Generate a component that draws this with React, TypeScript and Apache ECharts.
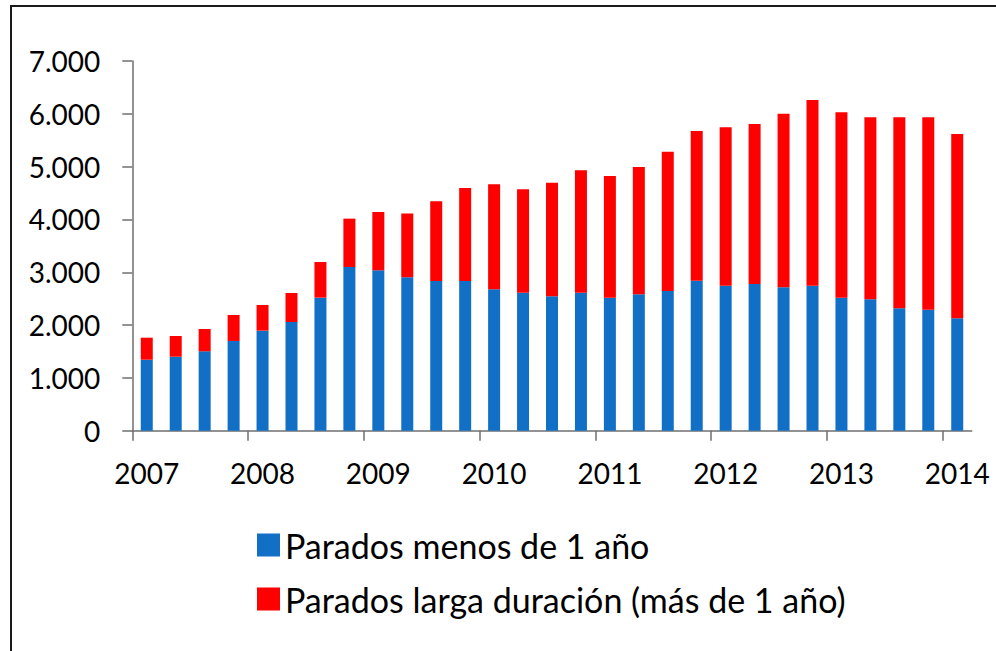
import React, { useEffect, useRef } from "react";
import * as echarts from "echarts";

// Quarterly data, 2007 Q1 .. 2014 Q1 (thousands)
const quarters: string[] = [
  "2007T1", "2007T2", "2007T3", "2007T4",
  "2008T1", "2008T2", "2008T3", "2008T4",
  "2009T1", "2009T2", "2009T3", "2009T4",
  "2010T1", "2010T2", "2010T3", "2010T4",
  "2011T1", "2011T2", "2011T3", "2011T4",
  "2012T1", "2012T2", "2012T3", "2012T4",
  "2013T1", "2013T2", "2013T3", "2013T4",
  "2014T1",
];

const totalParados: number[] = [
  1761, 1793, 1926, 2191, 2380, 2607, 3194, 4015, 4141, 4113,
  4343, 4596, 4665, 4571, 4696, 4930, 4823, 4993, 5283, 5675,
  5745, 5808, 6003, 6262, 6029, 5934, 5934, 5934, 5618,
];

const paradosMenos1: number[] = [
  1344, 1401, 1503, 1699, 1894, 2058, 2519, 3100, 3037, 2904,
  2834, 2834, 2677, 2614, 2544, 2614, 2519, 2582, 2645, 2838,
  2746, 2778, 2715, 2746, 2519, 2488, 2317, 2292, 2128,
];

const paradosLarga: number[] = totalParados.map((t, i) => t - paradosMenos1[i]);

// Year boundaries for tick marks (30 boundaries for 29 bars; ticks every 4th)
const yearBoundaries: string[] = Array.from({ length: 30 }, (_, i) =>
  i % 4 === 0 ? String(2007 + i / 4) : ""
);

const seriesNames = ["Parados menos de 1 año", "Parados larga duración (más de 1 año)"];

const FONT = "Lato, 'Open Sans', sans-serif";
const AXIS_COLOR = "#6f6f6f";

export default function App() {
  const ref = useRef<HTMLDivElement>(null);

  useEffect(() => {
    if (!ref.current) return;
    const chart = echarts.init(ref.current, undefined, { renderer: "svg" });
    chart.setOption({
      animation: false,
      backgroundColor: "#ffffff",
      textStyle: { fontFamily: FONT },
      grid: { left: 132.3, right: 24.3, top: 61, bottom: 220.3, containLabel: false },
      legend: {
        orient: "vertical",
        left: 252,
        top: 520,
        itemWidth: 23,
        itemHeight: 23,
        itemGap: 14,
        icon: "rect",
        textStyle: { fontSize: 34, color: "#000", fontFamily: FONT, lineHeight: 40 },
        data: seriesNames,
      },
      xAxis: [
        {
          type: "category",
          data: quarters,
          position: "bottom",
          axisLine: { show: true, lineStyle: { color: AXIS_COLOR, width: 1.5 } },
          axisTick: { show: false },
          axisLabel: {
            show: true,
            interval: 3,
            margin: 28,
            fontSize: 28,
            color: "#000",
            fontFamily: FONT,
            formatter: (v: string) => v.slice(0, 4),
          },
        },
        {
          type: "category",
          data: yearBoundaries,
          boundaryGap: false,
          position: "bottom",
          axisLine: { show: false },
          axisTick: {
            show: true,
            interval: 3,
            length: 10,
            lineStyle: { color: AXIS_COLOR, width: 1.5 },
          },
          axisLabel: { show: false },
        },
      ],
      yAxis: {
        type: "value",
        min: 0,
        max: 7000,
        interval: 1000,
        axisLine: { show: true, lineStyle: { color: AXIS_COLOR, width: 1.5 } },
        axisTick: { show: true, length: 10, lineStyle: { color: AXIS_COLOR, width: 1.5 } },
        splitLine: { show: false },
        axisLabel: {
          margin: 32,
          fontSize: 28,
          color: "#000",
          fontFamily: FONT,
          formatter: (v: number) => String(v).replace(/\B(?=(\d{3})+(?!\d))/g, "."),
        },
      },
      series: [
        {
          name: seriesNames[0],
          type: "bar",
          stack: "total",
          xAxisIndex: 0,
          barWidth: 12,
          data: paradosMenos1,
          itemStyle: { color: "#1170C6" },
        },
        {
          name: seriesNames[1],
          type: "bar",
          stack: "total",
          xAxisIndex: 0,
          barWidth: 12,
          data: paradosLarga,
          itemStyle: { color: "#FF0000" },
        },
      ],
      graphic: [
        {
          type: "line",
          shape: { x1: 10, y1: 6, x2: 996, y2: 6 },
          style: { stroke: "#1a1a1a", lineWidth: 2 },
        },
        {
          type: "line",
          shape: { x1: 11, y1: 5, x2: 11, y2: 651 },
          style: { stroke: "#1a1a1a", lineWidth: 2 },
        },
      ],
    });
    return () => chart.dispose();
  }, []);

  return (
    <div
      ref={ref}
      style={{ position: "absolute", left: 0, top: 0, width: 996, height: 651 }}
    />
  );
}
